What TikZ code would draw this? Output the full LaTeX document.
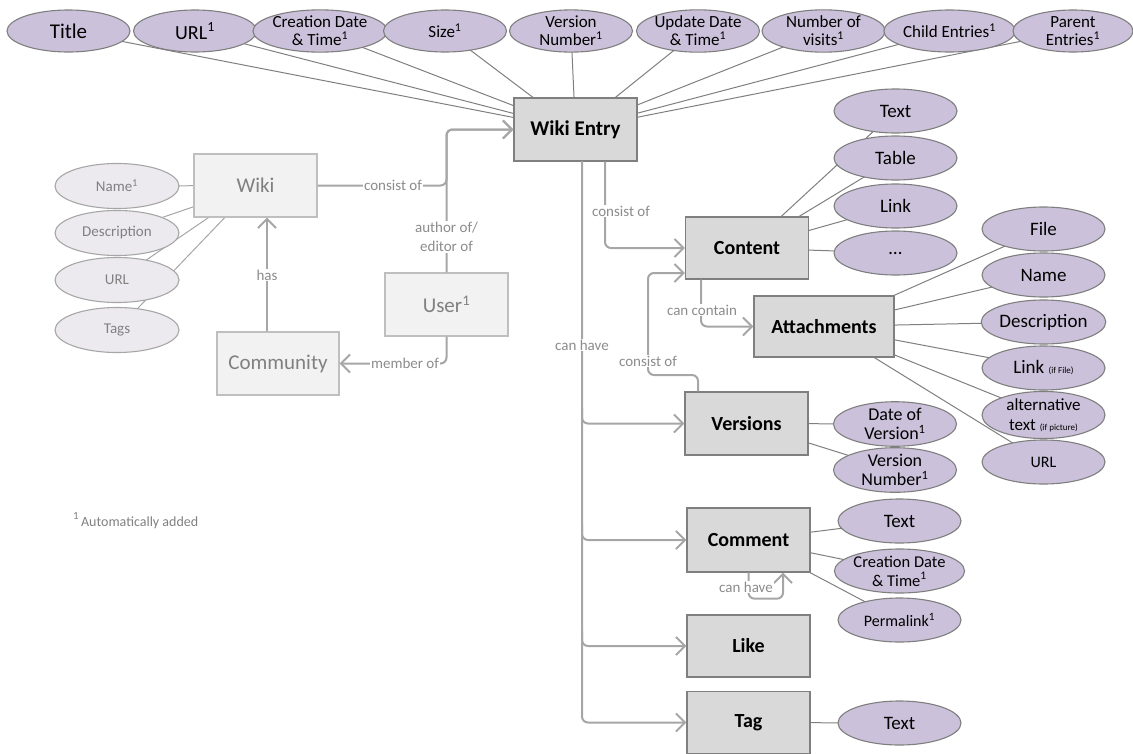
\documentclass[tikz,border=0pt]{standalone}
\usepackage{fontspec}
\setmainfont{Carlito}
\usetikzlibrary{shapes.geometric,arrows.meta,calc}
\pgfdeclarelayer{bg}
\pgfsetlayers{bg,main}

\definecolor{boxfill}{HTML}{D9D9D9}
\definecolor{boxline}{HTML}{7F7F7F}
\definecolor{attfill}{HTML}{CCC1DA}
\definecolor{attline}{HTML}{7F7F7F}
\definecolor{lboxfill}{HTML}{F2F2F2}
\definecolor{lboxline}{HTML}{BFBFBF}
\definecolor{lattfill}{HTML}{ECEAEF}
\definecolor{lattline}{HTML}{A6A6A6}
\definecolor{ltext}{HTML}{808080}
\definecolor{conncol}{HTML}{A6A6A6}
\definecolor{lblcol}{HTML}{8C8C8C}

\newcommand\supone{\textsuperscript{1}}
\newcommand\fs[2]{\fontsize{#1}{#2}\selectfont}

\begin{document}
\begin{tikzpicture}[x=1pt,y=-1pt,
  ent/.style={draw=boxline, fill=boxfill, line width=1.3pt, minimum width=123pt,
    minimum height=63pt, inner sep=0pt, font=\bfseries\fs{20}{20}},
  lent/.style={draw=lboxline, fill=lboxfill, line width=1.3pt, minimum width=123pt,
    minimum height=63pt, inner sep=0pt, text=ltext, font=\fs{21}{21}},
  attr/.style={ellipse, draw=attline, fill=attfill, line width=1.1pt, minimum width=123pt,
    minimum height=44pt, inner sep=0pt, align=center, font=\fs{19}{19}},
  topattr/.style={attr, minimum width=123pt, minimum height=42pt, font=\fs{17}{18}},
  lattr/.style={ellipse, draw=lattline, fill=lattfill, line width=1.1pt, minimum width=124pt,
    minimum height=45pt, inner sep=0pt, text=ltext, font=\fs{15}{15}},
  conn/.style={draw=conncol, line width=2pt, rounded corners=6pt},
  arr/.style={-{Straight Barb[length=9pt,width=18pt]}},
  lbl/.style={fill=white, text=lblcol, inner sep=1pt, font=\fs{15}{15}},
  aline/.style={draw=attline, line width=1pt},
  laline/.style={draw=lattline, line width=1pt}]

\useasboundingbox (0,0) rectangle (1133,753);

% ---------- central entity and its attributes ----------
\node[ent, font=\bfseries\fs{21}{21}] (we) at (575.5,129.5) {Wiki Entry};

\node[topattr, font=\fs{21}{21}] (t1) at (68.5,31) {Title};
\node[topattr, font=\fs{20}{20}] (t2) at (195,31) {URL\supone};
\node[topattr] (t3) at (320,31) {Creation Date\\\& Time\supone};
\node[topattr] (t4) at (445,31) {Size\supone};
\node[topattr] (t5) at (571,31) {Version\\Number\supone};
\node[topattr] (t6) at (698,31) {Update Date\\\& Time\supone};
\node[topattr] (t7) at (823.5,31) {Number of\\visits\supone};
\node[topattr] (t8) at (949.5,31) {Child Entries\supone};
\node[topattr, minimum width=120pt] (t9) at (1073,31) {Parent\\Entries\supone};

% ---------- wiki, user, community ----------
\node[lent] (wiki) at (255.5,185.5) {Wiki};
\node[lent] (user) at (446.5,304.5) {User\supone};
\node[lent, minimum width=122pt] (comm) at (278,363.5) {Community};

\node[lattr] (lname) at (117,186) {Name\supone};
\node[lattr] (ldesc) at (117,233) {Description};
\node[lattr] (lurl)  at (117,280) {URL};
\node[lattr] (ltags) at (117,330) {Tags};

% ---------- content ----------
\node[ent, minimum height=62pt] (content) at (747,248) {Content};
\node[attr] (ctext)  at (895.5,111) {Text};
\node[attr] (ctable) at (895.5,158) {Table};
\node[attr] (clink)  at (895.5,206) {Link};
\node[attr] (cdots)  at (895.5,253) {\dots};

% ---------- attachments ----------
\node[ent, minimum width=140pt, minimum height=61pt] (attach) at (824,326.5) {Attachments};
\node[attr] (afile) at (1043.5,229) {File};
\node[attr] (aname) at (1043.5,275) {Name};
\node[attr] (adesc) at (1043.5,322) {Description};
\node[attr] (alink) at (1043.5,368) {Link {\fs{9}{9}(if File)}};
\node[attr, font=\fs{17}{20}] (aalt) at (1043.5,415) {alternative\\text {\fs{9}{9}(if picture)}};
\node[attr, font=\fs{16}{16}] (aurl) at (1043.5,462) {URL};

% ---------- versions ----------
\node[ent] (versions) at (746.5,423.5) {Versions};
\node[attr, font=\fs{18}{19}] (vdate) at (895,424) {Date of\\Version\supone};
\node[attr, font=\fs{18}{19}] (vnum)  at (895,470) {Version\\Number\supone};

% ---------- comment, like, tag ----------
\node[ent, minimum height=64pt] (comment) at (748.5,540) {Comment};
\node[attr] (mtext) at (899.5,521) {Text};
\node[attr, font=\fs{16.5}{19}] (mdate) at (899.5,571) {Creation Date\\\& Time\supone};
\node[attr, font=\fs{16}{16}] (mperm) at (899.5,620) {Permalink\supone};

\node[ent, minimum height=62pt] (like) at (748.5,646) {Like};
\node[ent, minimum height=62pt] (tag) at (748.5,722.5) {Tag};
\node[attr] (ttext) at (899.5,723) {Text};

% ---------- footnote ----------
\node[anchor=west, text=ltext, inner sep=0pt, font=\fs{14}{14}] (note) at (73,521)
  {\raisebox{7pt}{\fs{11}{11}1}\,Automatically added};

% ---------- attribute lines (behind the shapes) ----------
\begin{pgfonlayer}{bg}
  \foreach \i in {1,...,9} \draw[aline] (t\i.center) -- (we.center);
  \foreach \n in {lname,ldesc,lurl,ltags} \draw[laline] (\n.center) -- (wiki.center);
  \foreach \n in {ctext,ctable,clink,cdots} \draw[aline] (\n.center) -- (content.center);
  \foreach \n in {afile,aname,adesc,alink,aalt,aurl} \draw[aline] (\n.center) -- (attach.center);
  \foreach \n in {vdate,vnum} \draw[aline] (\n.center) -- (versions.center);
  \foreach \n in {mtext,mdate,mperm} \draw[aline] (\n.center) -- (comment.center);
  \draw[aline] (ttext.center) -- (tag.center);
\end{pgfonlayer}

% ---------- relations ----------
\coordinate (hasx) at (267,0);
\coordinate (trunk) at (582,161);
\coordinate (vc) at (648,375);

\draw[conn,arr] (wiki.east) -- (wiki.east -| user.north) -- (we.west -| user.north) -- (we.west);
\draw[conn,arr] (user.north) |- (we.west);
\draw[conn,arr] (user.south) |- (comm.east);
\draw[conn,arr] (comm.north -| hasx) -- (wiki.south -| hasx);

\draw[conn,arr] (trunk) |- (tag.west);
\draw[conn,arr] ($(versions.west -| trunk)+(0,-15)$) |- (versions.west);
\draw[conn,arr] ($(comment.west -| trunk)+(0,-15)$) |- (comment.west);
\draw[conn,arr] ($(like.west -| trunk)+(0,-15)$) |- (like.west);

\draw[conn,arr] ($(we.south)+(29.5,0)$) |- (content.west);
\draw[conn,arr] ($(versions.north)+(-48.5,0)$) |- (vc) |- ($(content.west)+(0,25)$);
\draw[conn,arr] ($(content.south)+(-46,0)$) |- (attach.west);
\draw[conn,arr] (comment.south) -- ++(0,26) -| ($(comment.south)+(34.5,0)$);

% ---------- relation labels ----------
\node[lbl] (l1) at (393,185.5) {consist of};
\node[lbl, align=center, font=\fs{15}{19}] (l2) at (446.5,237) {author of/\\editor of};
\node[lbl] (l3) at (405,363.5) {member of};
\node[lbl] (l4) at (267,275) {has};
\node[lbl] (l5) at (621,211) {consist of};
\node[lbl] (l6) at (582,345) {can have};
\node[lbl] (l7) at (648,361) {consist of};
\node[lbl] (l8) at (702,310) {can contain};
\node[lbl] (l9) at (746,587) {can have};

\end{tikzpicture}
\end{document}
